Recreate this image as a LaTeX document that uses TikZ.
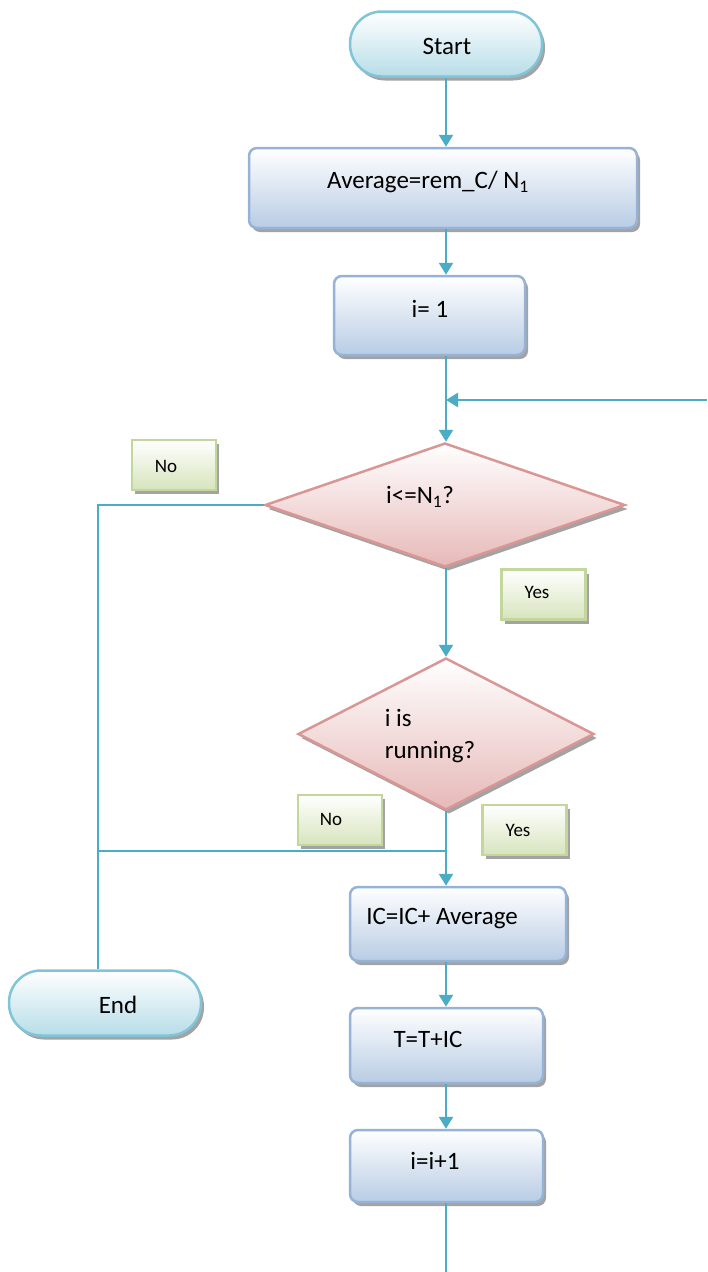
\documentclass[tikz,border=0pt]{standalone}
\usepackage{fontspec}
\setmainfont{Carlito}
\usetikzlibrary{shapes.geometric,shadows,arrows.meta}
\definecolor{conn}{HTML}{4BACC6}
\definecolor{pillb}{HTML}{7FC4D7}
\definecolor{pillf}{HTML}{B7DDE8}
\definecolor{boxb}{HTML}{95B3D7}
\definecolor{boxf}{HTML}{B8CCE4}
\definecolor{diab}{HTML}{D99694}
\definecolor{diaf}{HTML}{E6B9B8}
\definecolor{labb}{HTML}{C3D69B}
\definecolor{labf}{HTML}{D7E4BD}
\tikzset{
  shad/.style={drop shadow={shadow xshift=3pt,shadow yshift=-4pt,fill=black!45,opacity=0.8}},
  pill/.style={draw=pillb,line width=2.5pt,top color=white,bottom color=pillf,rounded corners=32pt,
    minimum width=192pt,minimum height=65pt,inner sep=0pt,shad},
  procbox/.style={draw=boxb,line width=2.5pt,top color=white,bottom color=boxf,rounded corners=8pt,
    inner sep=0pt,shad},
  decis/.style={diamond,draw=diab,line width=2.5pt,top color=white,bottom color=diaf,inner sep=0pt,shad},
  labbox/.style={draw=labb,line width=2.5pt,top color=white,bottom color=labf,
    minimum width=84pt,minimum height=50pt,inner sep=0pt,shad},
  txt/.style={font=\fontsize{25}{31}\selectfont,inner sep=0pt},
  ltxt/.style={font=\fontsize{19}{23}\selectfont,inner sep=0pt},
  conline/.style={draw=conn,line width=2.5pt},
  arr/.style={conline,-{Triangle[width=14pt,length=12pt]}},
}
\begin{document}
\begin{tikzpicture}[x=1pt,y=-1pt]
\useasboundingbox (0,0) rectangle (707,1272);
% nodes
\node[pill] (start) at (446,44) {};
\node[txt] (tstart) at (447,46) {Start};
\node[procbox,minimum width=388pt,minimum height=80pt] (box1) at (443,188) {};
\node[txt] (tbox1) at (428,182) {Average=rem\_C/ N\textsubscript{1}};
\node[procbox,minimum width=191pt,minimum height=79pt] (box2) at (429.5,315.5) {};
\node[txt] (tbox2) at (430,309) {i= 1};
\node[decis,minimum width=360pt,minimum height=124pt] (d1) at (445,505) {};
\node[txt] (td1) at (420,497) {i<=N\textsubscript{1}?};
\node[decis,minimum width=296pt,minimum height=152pt] (d2) at (446,734) {};
\node[txt,align=left,font=\fontsize{25}{32}\selectfont] (td2) at (430,736) {i is\\running?};
\node[procbox,minimum width=216pt,minimum height=74pt] (box3) at (458,924) {};
\node[txt] (tbox3) at (442,919) {IC=IC+ Average};
\node[procbox,minimum width=193pt,minimum height=75pt] (box4) at (446.5,1045.5) {};
\node[txt] (tbox4) at (428,1039) {T=T+IC};
\node[procbox,minimum width=193pt,minimum height=72pt] (box5) at (446.5,1166) {};
\node[txt] (tbox5) at (435,1161) {i=i+1};
\node[pill] (end) at (105,1003) {};
\node[txt] (tend) at (118,1005) {End};
% labels
\node[labbox] (no1) at (174,465) {};
\node[ltxt] (tno1) at (166,466) {No};
\node[labbox] (yes1) at (543.5,594.5) {};
\node[ltxt] (tyes1) at (537,592) {Yes};
\node[labbox] (no2) at (340,820) {};
\node[ltxt] (tno2) at (331,819) {No};
\node[labbox] (yes2) at (524.5,830) {};
\node[ltxt] (tyes2) at (518,830) {Yes};
% coordinates
\coordinate (loopin) at (707,400);
\coordinate (j1) at (446,400);
\coordinate (cornerL) at (98,505);
\coordinate (j2) at (446,851);
\coordinate (bottom) at (446,1272);
% connectors
\draw[arr] (start.south -| j1) -- (box1.north -| j1);
\draw[arr] (box1.south -| j1) -- (box2.north -| j1);
\draw[arr] (box2.south -| j1) -- (d1.north -| j1);
\draw[arr] (loopin) -- (j1);
\draw[conline] (d1.west) -- (cornerL) -- (cornerL |- end.north);
\draw[arr] (d1.south -| j1) -- (d2.north -| j1);
\draw[arr] (d2.south -| j1) -- (box3.north -| j1);
\draw[conline] (j2) -- (j2 -| cornerL);
\draw[arr] (box3.south -| j1) -- (box4.north -| j1);
\draw[arr] (box4.south -| j1) -- (box5.north -| j1);
\draw[conline] (box5.south -| j1) -- (bottom);
\end{tikzpicture}
\end{document}
